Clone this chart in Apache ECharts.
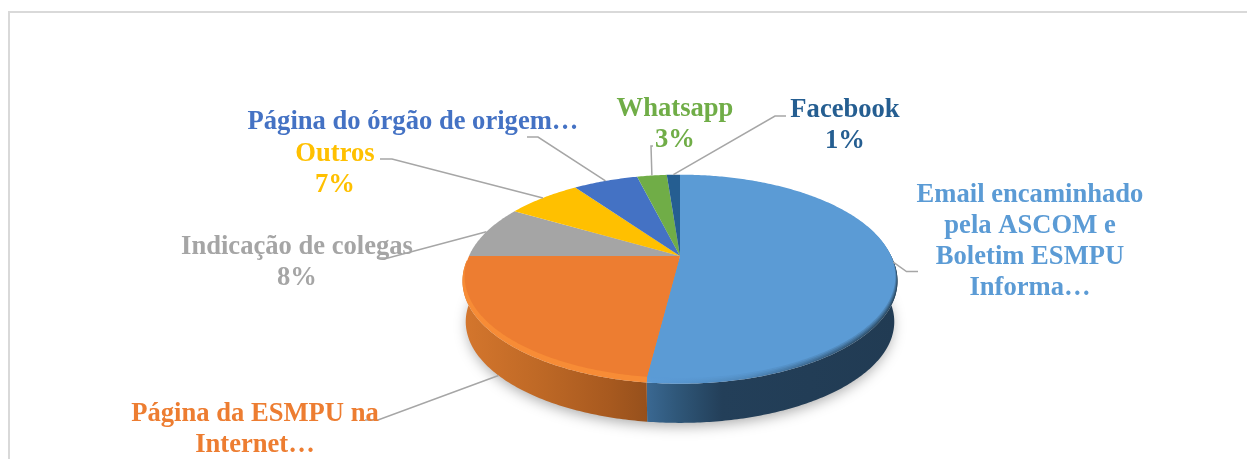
<!DOCTYPE html>
<html>
<head>
<meta charset="utf-8">
<style>html,body{margin:0;padding:0;background:#fff}#c{width:1247px;height:459px}</style>
<script src="https://cdn.jsdelivr.net/npm/echarts@6/dist/echarts.min.js"></script>
</head>
<body>
<div id="c"></div>
<script>
// ---- data ----
const categories = [
  'Email encaminhado\npela ASCOM e\nBoletim ESMPU\nInforma…',
  'Página da ESMPU na\nInternet…',
  'Indicação de colegas',
  'Outros',
  'Página do órgão de origem…',
  'Whatsapp',
  'Facebook'
];
const values = [52, 23, 8.4, 6.8, 5.9, 2.7, 1.2];
const percentLabels = ['', '', '8%', '7%', '', '3%', '1%'];
const colors = ['#5B9BD5', '#ED7D31', '#A5A5A5', '#FFC000', '#4472C4', '#70AD47', '#255E91'];

// ---- layout / style (pie projection and label placement) ----
const PIE = { cx: 680, cy: 256, R: 211, Q: 97.6, k: 0.2, rimScale: 1.01, rimDrop: 4.5, baseScale: 0.995, baseDrop: 45.5 };
const LABEL_LAYOUT = [
  { x: 1030, y: 241.5, elbow: [[906.5, 271.5], [918, 271.5]] },
  { x: 255, y: 429.5, elbow: [[378, 420], [365, 420]], onBase: true },
  { x: 297, y: 262.5, elbow: [[388, 258], [377, 258]] },
  { x: 335, y: 169.5, elbow: [[392, 159], [380, 159]] },
  { x: 413, y: 122.5, elbow: [[538, 137], [527, 137]] },
  { x: 675, y: 124.5, elbow: [[651, 146], [653, 146]] },
  { x: 845, y: 125.5, elbow: [[775, 116], [786, 116]] }
];
const FONT = 'bold 26.6px "Liberation Serif","Times New Roman",serif';
const LINE_HEIGHT = 31;
const G = echarts.graphic;
const hGrad = (x0, x1, stops) => new G.LinearGradient(x0, 0, x1, 0, stops, true);
const WALL = [
  hGrad(647, 897, [{offset:0,color:'#3A6892'},{offset:.12,color:'#2F5779'},{offset:.3,color:'#233F59'},{offset:1,color:'#213B53'}]),
  hGrad(464, 647, [{offset:0,color:'#D4762D'},{offset:.4,color:'#BF6926'},{offset:.8,color:'#A7591F'},{offset:1,color:'#96501C'}])
];
const BLUE_RIM_STOPS = [[0,'#5C9CD8'],[.4,'#4F88BC'],[.75,'#355D80'],[1,'#2A4860']];
// soft bevel on the blue slice: colour eases from the face colour to the rim colour
const blueRim = t => hGrad(647, 897, BLUE_RIM_STOPS.map(s => ({ offset: s[0], color: echarts.color.lerp(t, [colors[0], s[1]]) })));
const BEVEL_STEPS = [0.25, 0.5, 0.75, 1];

// ---- geometry ----
const total = values.reduce((a, b) => a + b, 0);
const starts = values.map((_, i) => values.slice(0, i).reduce((a, b) => a + b, 0));
const ang = v => v / total * Math.PI * 2;
function proj(theta, scale, drop) {
  const u = Math.sin(theta), v = -Math.cos(theta), s = 1 / (1 - PIE.k * v);
  return [PIE.cx + PIE.R * scale * u * s, PIE.cy + drop + PIE.Q * scale * v * s];
}
function arc(a0, a1, scale, drop) {
  const n = Math.max(2, Math.ceil((a1 - a0) / 0.012)), pts = [];
  for (let i = 0; i <= n; i++) pts.push(proj(a0 + (a1 - a0) * i / n, scale, drop));
  return pts;
}
const sector = (a0, a1, scale, drop) => [[PIE.cx, PIE.cy + drop]].concat(arc(a0, a1, scale, drop));

function renderSlice(params) {
  const i = params.dataIndex;
  const a0 = ang(starts[i]), a1 = ang(starts[i] + values[i]);
  const children = [];
  if (i === 0) {
    children.push({ type: 'polygon', z2: 1, shape: { points: sector(0, Math.PI * 2, PIE.baseScale * 0.99, PIE.baseDrop) },
      style: { fill: '#ddd', shadowBlur: 14, shadowColor: 'rgba(0,0,0,0.35)', shadowOffsetY: 4 }, silent: true });
  }
  if (i <= 1) {
    const wall = arc(a0, a1, PIE.rimScale, PIE.rimDrop).concat(arc(a0, a1, PIE.baseScale, PIE.baseDrop).reverse());
    children.push({ type: 'polygon', z2: 2, shape: { points: wall }, style: { fill: WALL[i] }, silent: true });
  }
  if (i === 0) {
    BEVEL_STEPS.forEach((t, j) => {
      const sc = 1 + (PIE.rimScale - 1) * t, dr = PIE.rimDrop * t;
      children.push({ type: 'polygon', z2: 3 + (BEVEL_STEPS.length - j) * 0.1,
        shape: { points: sector(a0, a1, sc, dr) }, style: { fill: blueRim(t) }, silent: true });
    });
  }
  if (i === 1) {
    children.push({ type: 'polygon', z2: 3, shape: { points: sector(a0, a1, PIE.rimScale, PIE.rimDrop) }, style: { fill: '#F78C36' }, silent: true });
  }
  children.push({ type: 'polygon', z2: 4, shape: { points: sector(a0, a1, 1, 0) }, style: { fill: colors[i] } });

  // leader line
  const mid = (a0 + a1) / 2, L = LABEL_LAYOUT[i];
  const start = L.onBase ? proj(mid, PIE.baseScale, PIE.baseDrop) : proj(mid, 1, 0);
  children.push({ type: 'polyline', z2: 5, shape: { points: [start].concat(L.elbow) },
    style: { stroke: '#A6A6A6', lineWidth: 1.5, fill: null }, silent: true });

  // label
  const text = percentLabels[i] ? categories[i] + '\n' + percentLabels[i] : categories[i];
  children.push({ type: 'text', z2: 6, style: { text: text, x: L.x, y: L.y, fill: colors[i], font: FONT,
    textAlign: 'center', textVerticalAlign: 'middle', lineHeight: LINE_HEIGHT } });
  return { type: 'group', children };
}

const chart = echarts.init(document.getElementById('c'), null, { renderer: 'canvas' });
chart.setOption({
  animation: false,
  backgroundColor: '#fff',
  graphic: [
    { type: 'rect', silent: true, shape: { x: 8, y: 11, width: 2, height: 448 }, style: { fill: '#D9D9D9' } },
    { type: 'rect', silent: true, shape: { x: 8, y: 11, width: 1239, height: 2 }, style: { fill: '#D9D9D9' } }
  ],
  series: [{
    type: 'custom',
    coordinateSystem: 'none',
    clip: false,
    renderItem: renderSlice,
    data: values
  }]
});
</script>
</body>
</html>
